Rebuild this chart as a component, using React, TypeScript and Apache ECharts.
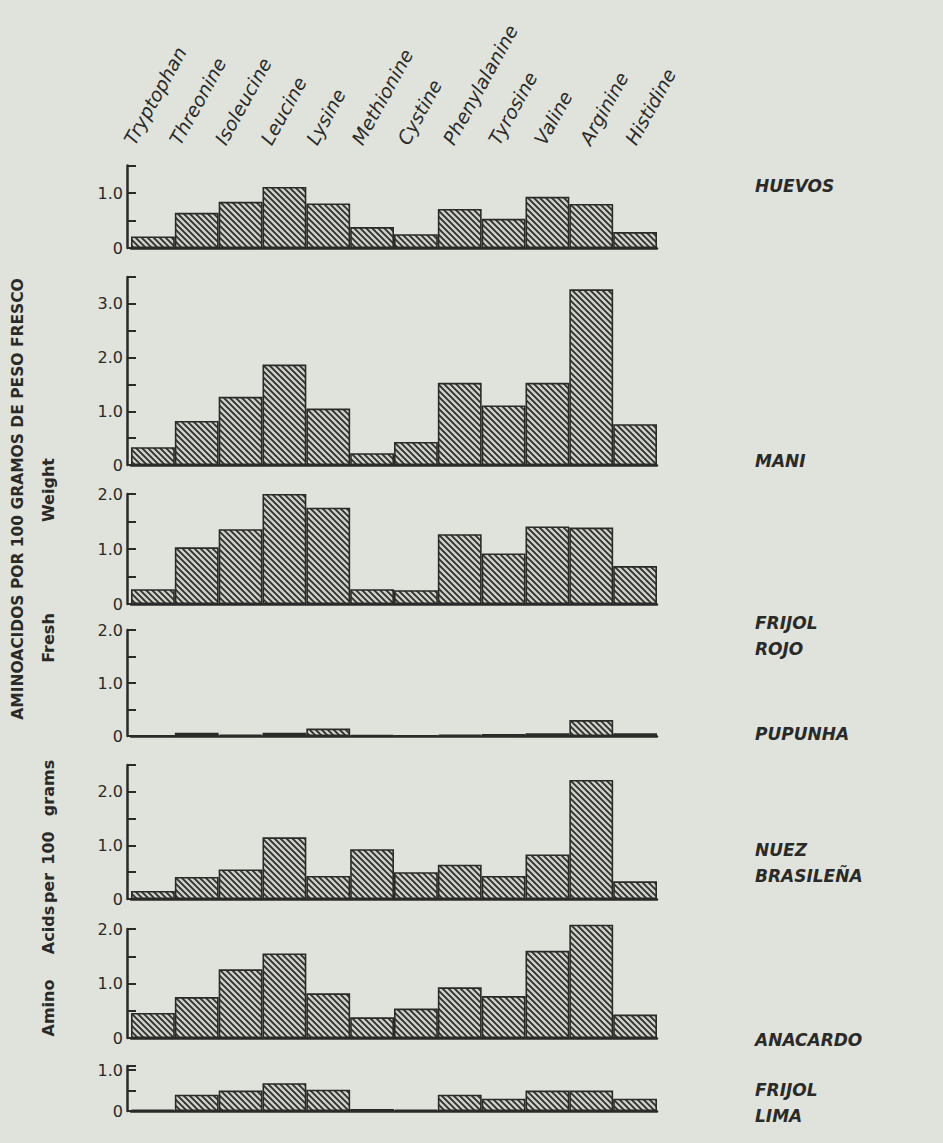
import React, { useEffect, useRef } from "react";
import * as echarts from "echarts";

const categories = ["Tryptophan", "Threonine", "Isoleucine", "Leucine", "Lysine", "Methionine", "Cystine", "Phenylalanine", "Tyrosine", "Valine", "Arginine", "Histidine"];

const huevos = [0.21, 0.64, 0.84, 1.11, 0.81, 0.38, 0.25, 0.71, 0.53, 0.93, 0.8, 0.29];
const mani = [0.33, 0.82, 1.27, 1.87, 1.05, 0.22, 0.43, 1.53, 1.11, 1.53, 3.27, 0.76];
const frijolRojo = [0.27, 1.03, 1.36, 2.0, 1.75, 0.27, 0.25, 1.27, 0.92, 1.41, 1.39, 0.69];
const pupunha = [0.01, 0.06, 0.03, 0.06, 0.14, 0.02, 0.01, 0.03, 0.04, 0.05, 0.3, 0.05];
const nuezBrasilena = [0.15, 0.41, 0.55, 1.15, 0.43, 0.93, 0.5, 0.64, 0.43, 0.83, 2.22, 0.33];
const anacardo = [0.46, 0.75, 1.26, 1.55, 0.82, 0.38, 0.54, 0.93, 0.77, 1.6, 2.08, 0.43];
const frijolLima = [0.03, 0.4, 0.5, 0.68, 0.52, 0.05, 0.03, 0.4, 0.3, 0.5, 0.5, 0.3];

const panelNames = ["HUEVOS", "MANI", "FRIJOL\nROJO", "PUPUNHA", "NUEZ\nBRASILEÑA", "ANACARDO", "FRIJOL\nLIMA"];
const panelSeries = [huevos, mani, frijolRojo, pupunha, nuezBrasilena, anacardo, frijolLima];
const panelMax = [1.5, 3.5, 2.0, 2.0, 2.5, 2.0, 1.1];

const yTitleEs = "AMINOACIDOS POR 100 GRAMOS DE PESO FRESCO";
const yTitleEnWords = ["Amino", "Acids", "per", "100", "grams", "Fresh", "Weight"];

const BG = "#dfe3dc";
const INK = "#2a2a28";

function makeHatch(): HTMLCanvasElement {
  const s = 6;
  const c = document.createElement("canvas");
  c.width = s;
  c.height = s;
  const ctx = c.getContext("2d")!;
  ctx.fillStyle = "#cdd0c9";
  ctx.fillRect(0, 0, s, s);
  ctx.strokeStyle = "#2e2e2c";
  ctx.lineWidth = 1.8;
  ctx.beginPath();
  ctx.moveTo(-1, -1);
  ctx.lineTo(s + 1, s + 1);
  ctx.moveTo(-1, s - 1);
  ctx.lineTo(1, s + 1);
  ctx.moveTo(s - 1, -1);
  ctx.lineTo(s + 1, 1);
  ctx.stroke();
  return c;
}

export default function App() {
  const ref = useRef<HTMLDivElement>(null);
  useEffect(() => {
    document.body.style.margin = "0";
    document.body.style.background = BG;
    const chart = echarts.init(ref.current!, null, { renderer: "svg" });
    const hatch = makeHatch();

    const tops = [165.5, 277, 494, 630, 765, 929, 1066];
    const bottoms = [248, 465, 604, 736, 899, 1038, 1111];
    const left = 131;
    const width = 526;
    const nameTops = [168, 443, 605, 716, 832, 1022, 1072];
    const enWordY = [1008, 930, 888, 848, 788, 638, 490];

    const grids: any[] = [];
    const xAxes: any[] = [];
    const yAxes: any[] = [];
    const series: any[] = [];
    const titles: any[] = [];

    panelSeries.forEach((vals, i) => {
      grids.push({ left, top: tops[i], width, height: bottoms[i] - tops[i] });
      xAxes.push({
        type: "category",
        gridIndex: i,
        data: categories,
        axisLine: { show: true, lineStyle: { color: INK, width: 2.5 } },
        axisTick: { show: false },
        axisLabel: { show: false },
      });
      yAxes.push({
        type: "value",
        gridIndex: i,
        min: 0,
        max: panelMax[i],
        interval: 0.5,
        offset: 4,
        axisLine: { show: true, lineStyle: { color: INK, width: 2.5 } },
        axisTick: { show: true, inside: true, length: 9, lineStyle: { color: INK, width: 2 } },
        axisLabel: {
          color: INK,
          fontSize: 16,
          fontFamily: "DejaVu Sans",
          margin: 4,
          formatter: (v: number) => (Math.abs(v - Math.round(v)) < 1e-6 ? (v === 0 ? "0" : v.toFixed(1)) : ""),
        },
        splitLine: { show: false },
      });
      series.push({
        type: "bar",
        xAxisIndex: i,
        yAxisIndex: i,
        data: vals,
        clip: false,
        barCategoryGap: 0,
        itemStyle: {
          color: { image: hatch, repeat: "repeat" },
          borderColor: INK,
          borderWidth: 1.6,
        },
      });
      titles.push({
        text: panelNames[i],
        left: 750,
        top: nameTops[i],
        textStyle: { color: INK, fontSize: 17, fontStyle: "italic", fontWeight: "bold", fontFamily: "DejaVu Sans", lineHeight: 26 },
      });
    });

    grids.push({ left: 106, top: 143, width: 547, height: 1 });
    xAxes.push({
      type: "category",
      gridIndex: 7,
      position: "top",
      data: categories,
      axisLine: { show: false },
      axisTick: { show: false },
      axisLabel: {
        interval: 0,
        rotate: 61,
        margin: 0,
        color: INK,
        fontSize: 19,
        fontStyle: "italic",
        fontFamily: "DejaVu Sans",
      },
    });
    yAxes.push({ type: "value", gridIndex: 7, show: false });

    const graphic: any[] = [
      {
        type: "text",
        x: 18,
        y: 499,
        rotation: Math.PI / 2,
        style: { text: yTitleEs, fill: INK, font: "bold 15.5px 'DejaVu Sans'", align: "center", verticalAlign: "middle" },
      },
    ];
    yTitleEnWords.forEach((w, k) => {
      graphic.push({
        type: "text",
        x: 48,
        y: enWordY[k],
        rotation: Math.PI / 2,
        style: { text: w, fill: INK, font: "bold 16px 'DejaVu Sans'", align: "center", verticalAlign: "middle" },
      });
    });

    chart.setOption({
      animation: false,
      backgroundColor: BG,
      title: titles,
      grid: grids,
      xAxis: xAxes,
      yAxis: yAxes,
      series,
      graphic,
    });
    return () => chart.dispose();
  }, []);
  return <div ref={ref} style={{ width: 943, height: 1143 }} />;
}
